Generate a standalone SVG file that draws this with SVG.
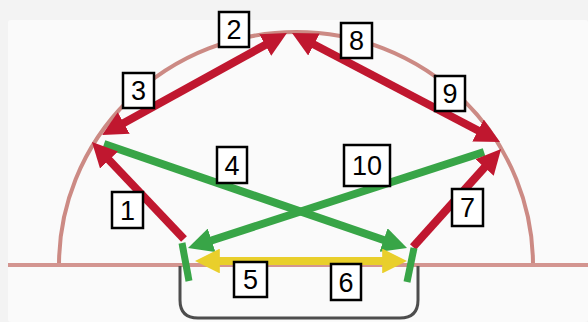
<svg xmlns="http://www.w3.org/2000/svg" width="588" height="322" viewBox="0 0 588 322">
  <style>
    .red { stroke: #c0172f; stroke-width: 8; fill: none; }
    .green { stroke: #38a547; stroke-width: 8; fill: none; }
    .yellow { stroke: #e9cf2b; stroke-width: 8; fill: none; }
    .tick { stroke: #38a547; stroke-width: 7; fill: none; }
    .lbl rect { fill: #ffffff; stroke: #000000; stroke-width: 2.5; }
    .lbl text { font-family: "Liberation Sans", Arial, sans-serif; font-size: 27px; fill: #000000; text-anchor: middle; }
  </style>
  <defs>
    <marker id="hr" viewBox="0 0 10 10" markerWidth="3.1" markerHeight="3.1" refX="5" refY="5" orient="auto-start-reverse">
      <path d="M0,0 L10,5 L0,10 z" fill="#c0172f"/>
    </marker>
    <marker id="hg" viewBox="0 0 10 10" markerWidth="3.1" markerHeight="3.1" refX="5" refY="5" orient="auto-start-reverse">
      <path d="M0,0 L10,5 L0,10 z" fill="#38a547"/>
    </marker>
    <marker id="hy" viewBox="0 0 10 10" markerWidth="3.1" markerHeight="3.1" refX="5" refY="5" orient="auto-start-reverse">
      <path d="M0,0 L10,5 L0,10 z" fill="#e9cf2b"/>
    </marker>
  </defs>

  <g id="background">
    <rect x="0" y="0" width="588" height="322" fill="#f3f3f3"/>
    <rect x="8" y="20" width="580" height="302" rx="3" fill="#fafafa"/>
  </g>

  <g id="dome">
    <path d="M59,265 A237,233 0 0 1 533,265" fill="none" stroke="#cc8a84" stroke-width="4"/>
    <line x1="8" y1="265" x2="588" y2="265" stroke="#d39590" stroke-width="4"/>
  </g>

  <g id="pit">
    <path d="M180,266 L180,300 Q180,318 198,318 L400,318 Q418,318 418,300 L418,266" fill="none" stroke="#4d4d4d" stroke-width="3"/>
  </g>

  <g id="connectors">
    <line class="green" x1="104" y1="144" x2="395.3" y2="244" marker-end="url(#hg)"/>
    <line class="green" x1="484" y1="152" x2="199.8" y2="244.2" marker-end="url(#hg)"/>
    <line class="yellow" x1="207.4" y1="261" x2="394.6" y2="261" marker-start="url(#hy)" marker-end="url(#hy)"/>
    <line class="red" x1="184" y1="239" x2="100.5" y2="151" marker-end="url(#hr)"/>
    <line class="red" x1="112.9" y1="129" x2="276.1" y2="39" marker-start="url(#hr)" marker-end="url(#hr)"/>
    <line class="red" x1="303" y1="38.8" x2="489" y2="136.2" marker-start="url(#hr)" marker-end="url(#hr)"/>
    <line class="red" x1="413" y1="247" x2="492.8" y2="158.3" marker-end="url(#hr)"/>
    <line class="tick" x1="182" y1="243" x2="189" y2="281"/>
    <line class="tick" x1="414" y1="248" x2="407" y2="282"/>
  </g>

  <g id="label-1" class="lbl"><rect x="112" y="192" width="31" height="36"/><text x="127.5" y="219.5">1</text></g>
  <g id="label-2" class="lbl"><rect x="219" y="12" width="30" height="35"/><text x="234" y="39">2</text></g>
  <g id="label-3" class="lbl"><rect x="123" y="73" width="31" height="35"/><text x="138.5" y="100">3</text></g>
  <g id="label-4" class="lbl"><rect x="217" y="147" width="30" height="36"/><text x="232" y="174.5">4</text></g>
  <g id="label-5" class="lbl"><rect x="234" y="262" width="33" height="35"/><text x="250.5" y="289">5</text></g>
  <g id="label-6" class="lbl"><rect x="331" y="264" width="30" height="36"/><text x="346" y="291.5">6</text></g>
  <g id="label-7" class="lbl"><rect x="452" y="189" width="31" height="37"/><text x="467.5" y="217">7</text></g>
  <g id="label-8" class="lbl"><rect x="341" y="23" width="31" height="35"/><text x="356.5" y="50">8</text></g>
  <g id="label-9" class="lbl"><rect x="435" y="76" width="30" height="35"/><text x="450" y="103">9</text></g>
  <g id="label-10" class="lbl"><rect x="344" y="145" width="46" height="41"/><text x="367" y="175">10</text></g>
</svg>
